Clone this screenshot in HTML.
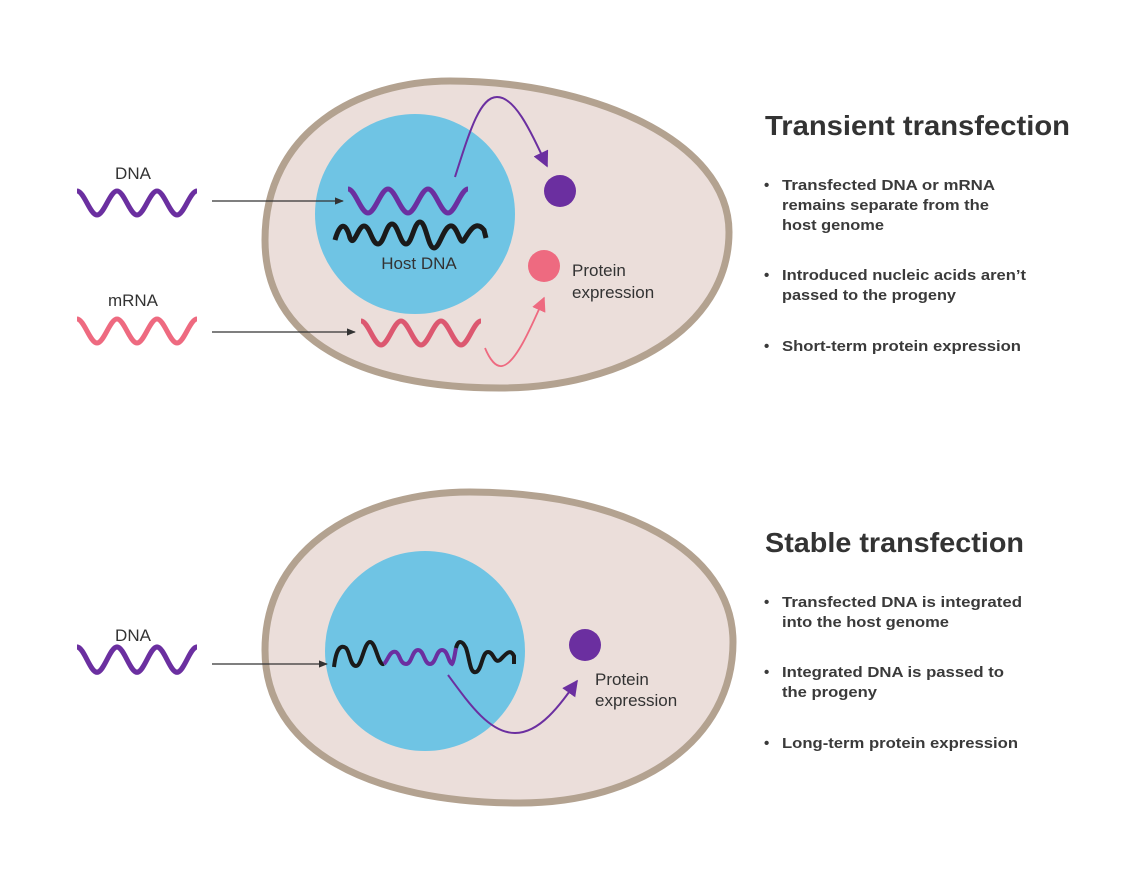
<!DOCTYPE html>
<html><head><meta charset="utf-8"><style>
html,body{margin:0;padding:0;background:#fff;}
svg{display:block;}
text{font-family:"Liberation Sans",sans-serif;}
.lab{font-size:17px;fill:#333;}
.b{font-size:15px;font-weight:bold;fill:#3a3a3a;}
.t{font-size:28px;font-weight:bold;fill:#333;}
</style></head><body>
<svg width="1122" height="874" viewBox="0 0 1122 874" xmlns="http://www.w3.org/2000/svg">
<defs>
<marker id="ah" viewBox="0 0 10 10" refX="9" refY="5" markerWidth="7" markerHeight="7" orient="auto"><path d="M0,1 L10,5 L0,9 Z" fill="#333"/></marker>
<marker id="ap" viewBox="0 0 10 10" refX="9" refY="5" markerWidth="8" markerHeight="8" orient="auto"><path d="M0,0 L10,5 L0,10 Z" fill="#6b2fa0"/></marker>
<marker id="ak" viewBox="0 0 10 10" refX="9" refY="5" markerWidth="8" markerHeight="8" orient="auto"><path d="M0,0 L10,5 L0,10 Z" fill="#ee6a80"/></marker>
<path id="w3" d="M0 0 C7 0 13 24 20 24 C27 24 33 0 40 0 C47 0 53 24 60 24 C67 24 73 0 80 0 C87 0 93 24 100 24 C107 24 113 0 120 0" fill="none"/>
</defs>

<!-- top cell -->
<path d="M265,240 C265,130 360,81 450,81 C590,81 729,140 729,232 C729,330 620,388 500,388 C360,388 265,340 265,240 Z" fill="#ebdeda" stroke="#b3a290" stroke-width="7"/>
<circle cx="415" cy="214" r="100" fill="#6fc4e4"/>

<use href="#w3" transform="translate(77,191)" stroke="#6b2fa0" stroke-width="5"/>
<use href="#w3" transform="translate(348,189)" stroke="#6b2fa0" stroke-width="5"/>
<use href="#w3" transform="translate(77,319)" stroke="#ee6a80" stroke-width="5"/>
<use href="#w3" transform="translate(361,321)" stroke="#dc5870" stroke-width="5"/>
<path d="M335,240 C340,222 346,222 350,238 C354,248 358,226 364,226 C370,226 372,244 378,244 C384,244 386,224 392,224 C398,224 400,244 406,244 C412,244 414,222 420,222 C426,222 428,248 434,248 C440,248 444,224 452,226 C458,228 460,246 464,240 C470,230 476,220 484,230 L486,238" fill="none" stroke="#1a1a1a" stroke-width="5"/>

<line x1="212" y1="201" x2="343" y2="201" stroke="#333" stroke-width="1.3" marker-end="url(#ah)"/>
<line x1="212" y1="332" x2="355" y2="332" stroke="#333" stroke-width="1.3" marker-end="url(#ah)"/>

<path d="M455,177 C470,130 480,97 497,97 C515,97 530,130 547,166" fill="none" stroke="#6b2fa0" stroke-width="2" marker-end="url(#ap)"/>
<circle cx="560" cy="191" r="16" fill="#6b2fa0"/>
<circle cx="544" cy="266" r="16" fill="#ee6a80"/>
<path d="M485,348 C490,360 496,367 502,366 C515,364 530,330 544,298" fill="none" stroke="#ee6a80" stroke-width="1.8" marker-end="url(#ak)"/>

<text class="lab" x="133" y="179" text-anchor="middle">DNA</text>
<text class="lab" x="133" y="306" text-anchor="middle">mRNA</text>
<text class="lab" x="419" y="269" text-anchor="middle">Host DNA</text>
<text class="lab" x="572" y="276">Protein</text>
<text class="lab" x="572" y="298">expression</text>

<!-- bottom cell -->
<path d="M265,650 C265,545 365,492 470,492 C620,492 733,550 733,642 C733,740 640,803 520,803 C370,803 265,750 265,650 Z" fill="#ebdeda" stroke="#b3a290" stroke-width="7"/>
<circle cx="425" cy="651" r="100" fill="#6fc4e4"/>

<use href="#w3" transform="translate(77,647) scale(1,1.05)" stroke="#6b2fa0" stroke-width="5"/>
<path d="M334,667 C336,650 340,644 346,648 C350,652 350,666 356,666 C362,666 364,642 370,642 C376,642 378,666 384,664" fill="none" stroke="#1a1a1a" stroke-width="4"/>
<path d="M384,664 C388,660 390,650 396,652 C400,654 400,664 406,664 C412,664 412,650 418,650 C424,650 424,664 430,664 C436,664 436,650 442,650 C448,650 448,662 452,664 C454,662 455,652 456,648" fill="none" stroke="#6b2fa0" stroke-width="4"/>
<path d="M456,648 C458,640 462,640 466,648 C470,660 470,674 476,672 C482,670 482,652 488,652 C494,652 494,664 500,660 C506,654 510,648 514,656 L514,664" fill="none" stroke="#1a1a1a" stroke-width="4"/>

<line x1="212" y1="664" x2="327" y2="664" stroke="#333" stroke-width="1.3" marker-end="url(#ah)"/>
<path d="M448,675 C470,705 490,733 515,733 C540,733 560,705 577,681" fill="none" stroke="#6b2fa0" stroke-width="2" marker-end="url(#ap)"/>
<circle cx="585" cy="645" r="16" fill="#6b2fa0"/>

<text class="lab" x="133" y="641" text-anchor="middle">DNA</text>
<text class="lab" x="595" y="685">Protein</text>
<text class="lab" x="595" y="706">expression</text>

<!-- right text -->
<text class="t" x="765" y="135" textLength="305" lengthAdjust="spacingAndGlyphs">Transient transfection</text>
<text class="b" x="764" y="190">•</text>
<text class="b" x="782" y="190" textLength="213" lengthAdjust="spacingAndGlyphs">Transfected DNA or mRNA</text>
<text class="b" x="782" y="210" textLength="207" lengthAdjust="spacingAndGlyphs">remains separate from the</text>
<text class="b" x="782" y="230" textLength="102" lengthAdjust="spacingAndGlyphs">host genome</text>
<text class="b" x="764" y="280">•</text>
<text class="b" x="782" y="280" textLength="244" lengthAdjust="spacingAndGlyphs">Introduced nucleic acids aren’t</text>
<text class="b" x="782" y="300" textLength="174" lengthAdjust="spacingAndGlyphs">passed to the progeny</text>
<text class="b" x="764" y="351">•</text>
<text class="b" x="782" y="351" textLength="239" lengthAdjust="spacingAndGlyphs">Short-term protein expression</text>

<text class="t" x="765" y="552" textLength="259" lengthAdjust="spacingAndGlyphs">Stable transfection</text>
<text class="b" x="764" y="607">•</text>
<text class="b" x="782" y="607" textLength="240" lengthAdjust="spacingAndGlyphs">Transfected DNA is integrated</text>
<text class="b" x="782" y="627" textLength="167" lengthAdjust="spacingAndGlyphs">into the host genome</text>
<text class="b" x="764" y="677">•</text>
<text class="b" x="782" y="677" textLength="222" lengthAdjust="spacingAndGlyphs">Integrated DNA is passed to</text>
<text class="b" x="782" y="697" textLength="95" lengthAdjust="spacingAndGlyphs">the progeny</text>
<text class="b" x="764" y="748">•</text>
<text class="b" x="782" y="748" textLength="236" lengthAdjust="spacingAndGlyphs">Long-term protein expression</text>
</svg>
</body></html>
